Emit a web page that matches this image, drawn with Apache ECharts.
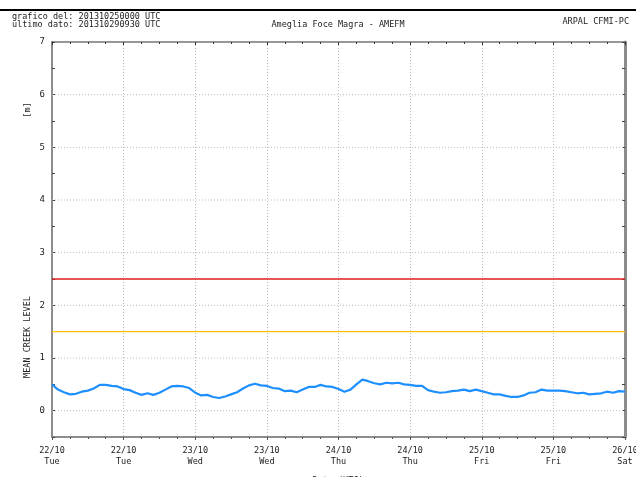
<!DOCTYPE html>
<html>
<head>
<meta charset="utf-8">
<script src="https://cdn.jsdelivr.net/npm/echarts@6/dist/echarts.min.js"></script>
<style>html,body{margin:0;padding:0;background:#fff}#c{width:636px;height:477px}</style>
</head>
<body>
<div id="c"></div>
<script>
// hours since 22/10 00:00 UTC (hourly samples)
const levelHours = [];
for (let i = 0; i <= 96; i++) levelHours.push(i);
const levelValues = [
  0.50,0.40,0.35,0.31,0.32,0.36,0.38,0.42,0.49,0.49,0.47,0.46,
  0.41,0.39,0.34,0.30,0.33,0.30,0.34,0.40,0.46,0.47,0.46,0.43,
  0.34,0.29,0.30,0.26,0.24,0.27,0.31,0.35,0.42,0.48,0.51,0.48,
  0.47,0.43,0.42,0.37,0.38,0.35,0.40,0.45,0.45,0.49,0.46,0.45,
  0.41,0.36,0.40,0.50,0.59,0.56,0.52,0.50,0.53,0.52,0.53,0.50,
  0.49,0.47,0.47,0.39,0.36,0.34,0.35,0.37,0.38,0.40,0.37,0.40,
  0.37,0.34,0.31,0.31,0.28,0.26,0.26,0.29,0.34,0.35,0.40,0.38,
  0.38,0.38,0.37,0.35,0.33,0.34,0.31,0.32,0.33,0.36,0.34,0.37,0.36
];
const xTickDates = ['22/10','22/10','23/10','23/10','24/10','24/10','25/10','25/10','26/10'];
const xTickDays = ['Tue','Tue','Wed','Wed','Thu','Thu','Fri','Fri','Sat'];
const yGridValues = [0,1,2,3,4,5,6];
const alertLevels = [2.5];
const attentionLevels = [1.5];
const xRange = [0, 96];

const mono = 'DejaVu Sans Mono';
const data = levelHours.map((h, i) => [h, levelValues[i]]);

function hLine(v, style, z) {
  return {
    type: 'line', xAxisIndex: 0, yAxisIndex: 0, silent: true,
    data: xRange.map(x => [x, v]), showSymbol: false, symbol: 'none',
    lineStyle: style, z: z, animation: false
  };
}

const series = [];
yGridValues.forEach(v => series.push(hLine(v, {color: '#bdbdbd', type: [1, 2], width: 1}, 1)));
alertLevels.forEach(v => series.push(hLine(v, {color: '#dd1f1f', type: 'solid', width: 1.4}, 2)));
attentionLevels.forEach(v => series.push(hLine(v, {color: '#ffbf00', type: 'solid', width: 1.4}, 2)));
series.push({
  type: 'line', xAxisIndex: 0, yAxisIndex: 0,
  data: data, showSymbol: false, symbol: 'none',
  lineStyle: {color: '#1e8fff', width: 2.2}, z: 5
});

const chart = echarts.init(document.getElementById('c'), null, {renderer: 'canvas'});
chart.setOption({
  animation: false,
  backgroundColor: '#fff',
  grid: {left: 52, top: 42, width: 573, height: 395, containLabel: false, outerBoundsMode: 'none'},
  xAxis: [{
    type: 'value', position: 'bottom', min: 0, max: 96, interval: 12,
    axisLine: {onZero: false, lineStyle: {color: '#8c8c8c', width: 2}},
    axisTick: {inside: false, length: 3, lineStyle: {color: '#555'}},
    minorTick: {show: true, splitNumber: 4, length: 2, lineStyle: {color: '#555'}},
    axisLabel: {
      fontFamily: mono, fontSize: 8.5, color: '#222', margin: 8, lineHeight: 11,
      formatter: v => { const k = Math.round(v / 12); return xTickDates[k] + '\n' + xTickDays[k]; }
    },
    splitLine: {show: true, lineStyle: {color: '#bdbdbd', type: [1, 2], width: 1}}
  }, {
    type: 'value', position: 'top', min: 0, max: 96, interval: 12,
    axisLine: {onZero: false, lineStyle: {color: '#777', width: 1.5}},
    axisTick: {inside: true, length: 3, lineStyle: {color: '#333'}},
    minorTick: {show: true, splitNumber: 4, length: 2, lineStyle: {color: '#333'}},
    axisLabel: {show: false},
    splitLine: {show: false}
  }],
  yAxis: [{
    type: 'value', position: 'left', min: -0.5, max: 7, interval: 0.5,
    axisLine: {show: true, onZero: false, lineStyle: {color: '#8c8c8c', width: 2}},
    axisTick: {show: true, inside: true, length: 3, lineStyle: {color: '#444'}},
    axisLabel: {
      fontFamily: mono, fontSize: 9, color: '#222', margin: 7,
      formatter: v => (Math.abs(v - Math.round(v)) < 1e-6 ? String(Math.round(v)) : '')
    },
    splitLine: {show: false}
  }, {
    type: 'value', position: 'right', min: -0.5, max: 7, interval: 0.5,
    axisLine: {show: true, onZero: false, lineStyle: {color: '#8c8c8c', width: 3}},
    axisTick: {show: true, inside: true, length: 3, lineStyle: {color: '#444'}},
    axisLabel: {show: false},
    splitLine: {show: false}
  }],
  series: series,
  graphic: [
    {type: 'rect', left: 0, top: 9, shape: {width: 636, height: 2}, style: {fill: '#000'}},
    {type: 'text', left: 12, top: 12, style: {text: 'grafico del: 201310250000 UTC', font: '8.5px "DejaVu Sans Mono"', fill: '#222'}},
    {type: 'text', left: 12, top: 20, style: {text: 'ultimo dato: 201310290930 UTC', font: '8.5px "DejaVu Sans Mono"', fill: '#222'}},
    {type: 'text', x: 338, y: 25, style: {text: 'Ameglia Foce Magra - AMEFM', font: '8.5px "DejaVu Sans Mono"', fill: '#222', align: 'center', verticalAlign: 'middle'}},
    {type: 'text', x: 629, y: 22, style: {text: 'ARPAL CFMI-PC', font: '8.5px "DejaVu Sans Mono"', fill: '#222', align: 'right', verticalAlign: 'middle'}},
    {type: 'text', x: 28, y: 110, rotation: Math.PI / 2, style: {text: '[m]', font: '8.5px "DejaVu Sans Mono"', fill: '#222', align: 'center', verticalAlign: 'middle'}},
    {type: 'text', x: 28, y: 337, rotation: Math.PI / 2, style: {text: 'MEAN CREEK LEVEL', font: '8.5px "DejaVu Sans Mono"', fill: '#222', align: 'center', verticalAlign: 'middle'}},
    {type: 'text', x: 338, y: 476, style: {text: 'Data (UTC)', font: '8.5px "DejaVu Sans Mono"', fill: '#222', align: 'center', verticalAlign: 'top'}}
  ]
});
</script>
</body>
</html>
